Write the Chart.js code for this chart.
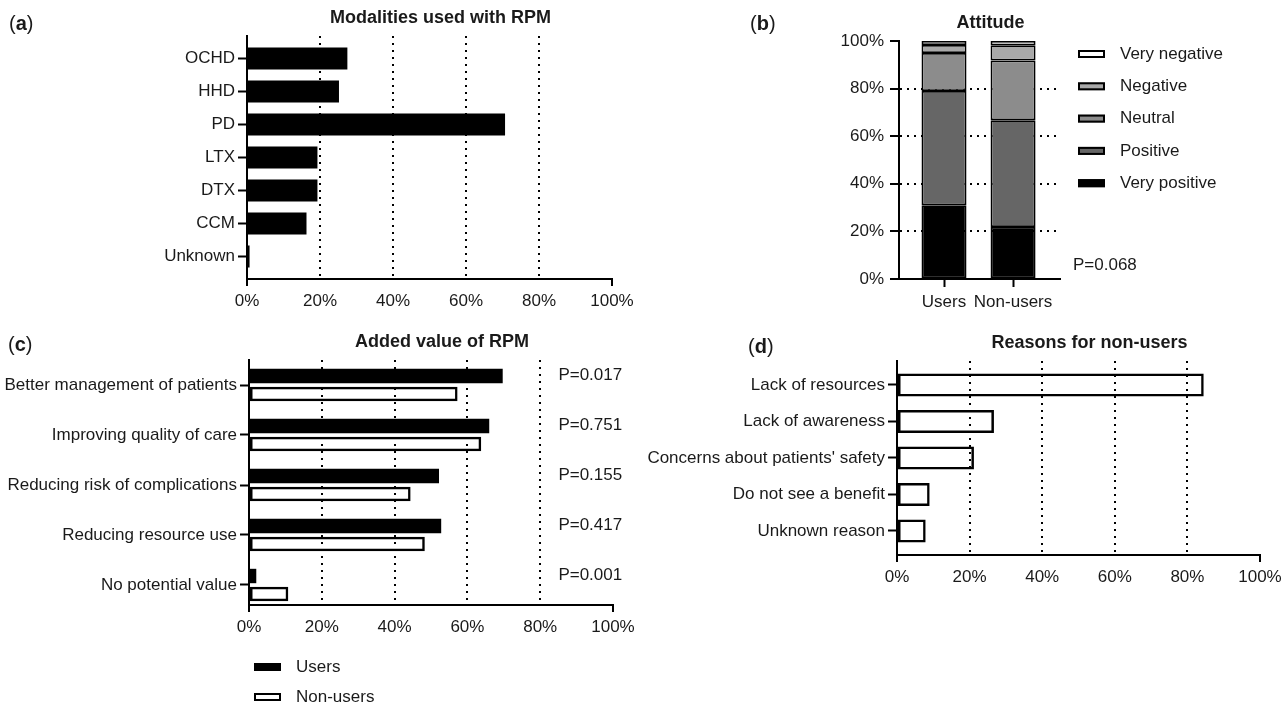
<!DOCTYPE html>
<html>
<head>
<meta charset="utf-8">
<title>Remote patient monitoring survey</title>
<script src="https://cdn.jsdelivr.net/npm/chart.js@4"></script>
<style>
  html, body { margin: 0; padding: 0; background: #fff; overflow: hidden; }
  #page { position: relative; width: 1283px; height: 704px; }
  canvas { position: absolute; }
</style>
</head>
<body>
<div id="page">
  <canvas id="modalities" width="640" height="330" style="left:0;top:0"></canvas>
  <canvas id="attitude" width="543" height="330" style="left:740px;top:0"></canvas>
  <canvas id="addedValue" width="640" height="374" style="left:0;top:330px"></canvas>
  <canvas id="reasons" width="650" height="280" style="left:640px;top:330px"></canvas>
</div>
<script>
// (a) modalities used with RPM, % of users
const modalityLabels = ['OCHD', 'HHD', 'PD', 'LTX', 'DTX', 'CCM', 'Unknown'];
const modalityShares = [27.5, 25.2, 70.7, 19.3, 19.3, 16.3, 0.7];

// (b) attitude, % per group (stacked from the bottom)
const attitudeGroups = ['Users', 'Non-users'];
const veryPositive = [31.0, 21.9];
const positive = [48.0, 44.8];
const neutral = [16.0, 25.1];
const negative = [3.3, 6.4];
const veryNegative = [1.7, 1.8];
const attitudeP = 'P=0.068';

// (c) added value of RPM
const addedLabels = ['Better management of patients', 'Improving quality of care',
  'Reducing risk of complications', 'Reducing resource use', 'No potential value'];
const addedUsers = [69.7, 66.0, 52.2, 52.8, 2.0];
const addedNonUsers = [57.3, 63.8, 44.4, 48.3, 10.8];
const addedP = ['P=0.017', 'P=0.751', 'P=0.155', 'P=0.417', 'P=0.001'];

// (d) reasons for non-users
const reasonLabels = ['Lack of resources', 'Lack of awareness', "Concerns about patients' safety",
  'Do not see a benefit', 'Unknown reason'];
const reasonShares = [84.5, 26.7, 21.2, 9.0, 7.9];

const FONT = "'Liberation Sans', Arial, sans-serif";
const INK = '#1a1a1a';
const clear = 'rgba(0,0,0,0)';

Chart.defaults.font.family = FONT;
Chart.defaults.font.size = 17;
Chart.defaults.color = INK;
Chart.defaults.animation = false;

// dotted grid only at the inner percentages, end ticks only at 0 and 100
const dotted = ctx => (ctx.tick && ctx.tick.value > 0 && ctx.tick.value < 100) ? '#000' : clear;
const ends = ctx => (ctx.tick && (ctx.tick.value === 0 || ctx.tick.value === 100)) ? '#000' : clear;

function shareAxis(height) {
    return {
        type: 'linear', min: 0, max: 100,
        afterFit: s => { s.height = height; },
        ticks: { stepSize: 20, padding: 5, callback: v => v + '%' },
        grid: { color: dotted, lineWidth: 2, tickColor: ends, tickLength: 7, tickWidth: 2, tickBorderDash: [] },
        border: { color: '#000', width: 2, dash: [2, 5] }
    };
}

function indexAxis(labels, min, max, width) {
    return {
        type: 'linear', reverse: true, min: min, max: max, offset: false,
        afterFit: s => { s.width = width; },
        ticks: { stepSize: 1, includeBounds: false, autoSkip: false, padding: 3, callback: v => labels[v] },
        grid: { offset: false, drawOnChartArea: false, tickLength: 9, tickWidth: 2, tickColor: '#000' },
        border: { color: '#000', width: 2 }
    };
}

function points(values, horizontal) {
    return values.map((v, i) => horizontal ? { x: v, y: i } : { x: i, y: v });
}

function drawKey(ctx, datasets, x, y, step) {
    datasets.forEach((ds, i) => {
        const cy = y + i * step;
        ctx.fillStyle = ds.backgroundColor === clear ? '#fff' : ds.backgroundColor;
        ctx.fillRect(x, cy - 4, 27, 8);
        ctx.lineWidth = 2;
        ctx.strokeStyle = '#000';
        ctx.strokeRect(x + 1, cy - 3, 25, 6);
        ctx.fillStyle = INK;
        ctx.fillText(ds.label, x + 42, cy);
    });
}

function decor(letter, letterX, letterY, title, extra) {
    return {
        id: 'decor',
        afterDraw(chart) {
            const { ctx, chartArea } = chart;
            ctx.save();
            ctx.fillStyle = INK;
            ctx.textBaseline = 'middle';
            ctx.textAlign = 'left';
            let x = letterX;
            ['(', letter, ')'].forEach((part, i) => {
                ctx.font = (i === 1 ? 'bold ' : '') + '20px ' + FONT;
                ctx.fillText(part, x, letterY);
                x += ctx.measureText(part).width;
            });
            ctx.textAlign = 'center';
            ctx.font = 'bold 18px ' + FONT;
            ctx.fillText(title, (chartArea.left + chartArea.right) / 2 + 11, chartArea.top - 18);
            ctx.font = '17px ' + FONT;
            ctx.textAlign = 'left';
            if (extra) extra(chart, ctx);
            ctx.restore();
        }
    };
}

const quiet = { legend: { display: false }, tooltip: { enabled: false } };

// (a)
new Chart(document.getElementById('modalities'), {
    type: 'bar',
    data: {
        datasets: [{
            label: 'Modalities',
            data: points(modalityShares, true),
            backgroundColor: '#000',
            borderWidth: 0,
            categoryPercentage: 1,
            barPercentage: 0.667
        }]
    },
    options: {
        indexAxis: 'y',
        responsive: false,
        layout: { padding: { top: 36, right: 28, left: 0, bottom: 0 } },
        scales: { x: shareAxis(51), y: indexAxis(modalityLabels, -0.68, 6.68, 247) },
        plugins: quiet
    },
    plugins: [decor('a', 9, 24, 'Modalities used with RPM')]
});

// (b)
const attitudeSeries = [
    { label: 'Very positive', values: veryPositive, color: '#000' },
    { label: 'Positive', values: positive, color: '#666' },
    { label: 'Neutral', values: neutral, color: '#8c8c8c' },
    { label: 'Negative', values: negative, color: '#a9a9a9' },
    { label: 'Very negative', values: veryNegative, color: '#fff' }
];

new Chart(document.getElementById('attitude'), {
    type: 'bar',
    data: {
        datasets: attitudeSeries.map(s => ({
            label: s.label,
            data: points(s.values, false),
            backgroundColor: s.color,
            borderColor: '#000',
            borderWidth: 1.75,
            borderSkipped: false,
            categoryPercentage: 1,
            barPercentage: 0.652
        }))
    },
    options: {
        responsive: false,
        layout: { padding: { top: 41, right: 223, left: 0, bottom: 0 } },
        scales: {
            x: {
                type: 'linear', stacked: true, min: -0.652, max: 1.68, offset: false,
                afterFit: s => { s.height = 51; },
                ticks: { stepSize: 1, includeBounds: false, autoSkip: false, padding: 5, callback: v => attitudeGroups[v] },
                grid: { offset: false, drawOnChartArea: false, tickLength: 8, tickWidth: 2, tickColor: '#000' },
                border: { color: '#000', width: 2 }
            },
            y: {
                type: 'linear', stacked: true, min: 0, max: 100,
                afterFit: s => { s.width = 159; },
                ticks: { stepSize: 20, padding: 6, callback: v => v + '%' },
                grid: { color: dotted, lineWidth: 2, tickLength: 9, tickWidth: 2, tickColor: '#000', tickBorderDash: [] },
                border: { color: '#000', width: 2, dash: [2, 5] }
            }
        },
        plugins: quiet
    },
    plugins: [decor('b', 10, 24, 'Attitude', (chart, ctx) => {
        const area = chart.chartArea;
        drawKey(ctx, chart.data.datasets.slice().reverse(), 338, 54, 32.3);
        ctx.fillText(attitudeP, area.right + 13, area.bottom - 14);
    })]
});

// (c)
new Chart(document.getElementById('addedValue'), {
    type: 'bar',
    data: {
        datasets: [
            { label: 'Users', data: points(addedUsers, true), backgroundColor: '#000', borderWidth: 0 },
            { label: 'Non-users', data: points(addedNonUsers, true), backgroundColor: clear, borderWidth: 2.5 }
        ].map(d => Object.assign(d, {
            borderColor: '#000', borderSkipped: false,
            categoryPercentage: 0.72, barPercentage: 0.8
        }))
    },
    options: {
        indexAxis: 'y',
        responsive: false,
        layout: { padding: { top: 30, right: 27, left: 0, bottom: 0 } },
        scales: { x: shareAxis(99), y: indexAxis(addedLabels, -0.5, 4.4, 249) },
        plugins: quiet
    },
    plugins: [decor('c', 8, 15, 'Added value of RPM', (chart, ctx) => {
        const xs = chart.scales.x, ys = chart.scales.y;
        addedP.forEach((p, i) => ctx.fillText(p, xs.getPixelForValue(85), ys.getPixelForValue(i) - 10));
        drawKey(ctx, chart.data.datasets, 254, 337, 30);
    })]
});

// (d)
new Chart(document.getElementById('reasons'), {
    type: 'bar',
    data: {
        datasets: [{
            label: 'Non-users',
            data: points(reasonShares, true),
            backgroundColor: clear,
            borderColor: '#000',
            borderWidth: 2.5,
            borderSkipped: false,
            categoryPercentage: 1,
            barPercentage: 0.63
        }]
    },
    options: {
        indexAxis: 'y',
        responsive: false,
        layout: { padding: { top: 31, right: 30, left: 0, bottom: 0 } },
        scales: { x: shareAxis(55), y: indexAxis(reasonLabels, -0.657, 4.658, 257) },
        plugins: quiet
    },
    plugins: [decor('d', 108, 17, 'Reasons for non-users')]
});
</script>
</body>
</html>
